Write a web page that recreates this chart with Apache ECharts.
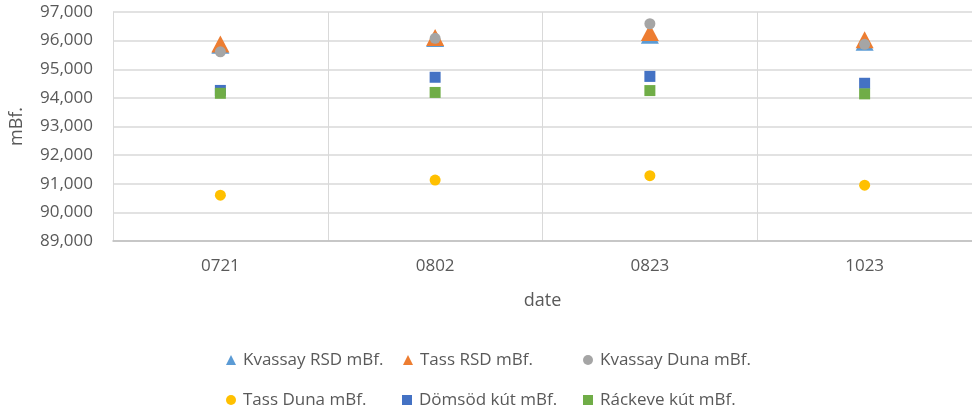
<!DOCTYPE html>
<html>
<head>
<meta charset="utf-8">
<script src="https://cdn.jsdelivr.net/npm/echarts@6/dist/echarts.min.js"></script>
<style>
  html, body { margin: 0; padding: 0; background: #fff; }
  #chart { width: 972px; height: 411px; }
</style>
</head>
<body>
<div id="chart"></div>
<script>
// Measurement dates
const dates = ['0721', '0802', '0823', '1023'];

// Water levels (mBf.) per station
const kvassayRsd  = [95840, 96070, 96190, 95945];
const tassRsd     = [95880, 96110, 96280, 96030];
const kvassayDuna = [95610, 96080, 96590, 95870];
const tassDuna    = [90600, 91130, 91280, 90950];
const domsodKut   = [94260, 94720, 94750, 94510];
const rackeveKut  = [94160, 94190, 94255, 94140];

// Value axis ticks
const yMin = 89000;
const yMax = 97000;
const yStep = 1000;

const FONT = '"Open Sans", "Noto Sans", sans-serif';
const TEXT = '#595959';

const seriesDefs = [
  { name: 'Kvassay RSD mBf.',  data: kvassayRsd,  symbol: 'triangle', size: [18, 17], color: '#5B9BD5' },
  { name: 'Tass RSD mBf.',     data: tassRsd,     symbol: 'triangle', size: [18, 17], color: '#ED7D31' },
  { name: 'Kvassay Duna mBf.', data: kvassayDuna, symbol: 'circle',   size: 11,       color: '#A5A5A5' },
  { name: 'Tass Duna mBf.',    data: tassDuna,    symbol: 'circle',   size: 11,       color: '#FFC000' },
  { name: 'Dömsöd kút mBf.',   data: domsodKut,   symbol: 'rect',     size: 11,       color: '#4472C4' },
  { name: 'Ráckeve kút mBf.',  data: rackeveKut,  symbol: 'rect',     size: 11,       color: '#70AD47' }
];

// Legend laid out in two rows of three
const legendSpots = [
  { left: 226, top: 350 }, { left: 403, top: 350 }, { left: 583, top: 350 },
  { left: 226, top: 390 }, { left: 402, top: 390 }, { left: 583, top: 390 }
];

const legends = seriesDefs.map((s, i) => ({
  data: [{ name: s.name, icon: s.symbol }],
  left: legendSpots[i].left,
  top: legendSpots[i].top,
  padding: 0,
  itemWidth: 10,
  itemHeight: 10,
  selectedMode: false,
  textStyle: { fontFamily: FONT, fontSize: 17, color: TEXT, lineHeight: 20, padding: [0, 0, 0, 2] }
}));

const chart = echarts.init(document.getElementById('chart'), null, { renderer: 'canvas' });

chart.setOption({
  animation: false,
  backgroundColor: '#ffffff',
  grid: { left: 112, top: 12, width: 864, height: 229, containLabel: false },
  legend: legends,
  xAxis: {
    type: 'category',
    data: dates,
    boundaryGap: true,
    name: 'date',
    nameLocation: 'middle',
    nameGap: 51,
    nameTextStyle: { fontFamily: FONT, fontSize: 18, color: TEXT },
    axisLine: { show: true, lineStyle: { color: '#bfbfbf', width: 1.5 } },
    axisTick: { show: false },
    axisLabel: { fontFamily: FONT, fontSize: 17, color: TEXT, margin: 17 },
    splitLine: { show: true, lineStyle: { color: '#d9d9d9', width: 1 } }
  },
  yAxis: {
    type: 'value',
    min: yMin,
    max: yMax,
    interval: yStep,
    name: 'mBf.',
    nameLocation: 'middle',
    nameGap: 87,
    nameRotate: 90,
    nameTextStyle: { fontFamily: FONT, fontSize: 18, color: TEXT },
    axisLine: { show: true, lineStyle: { color: '#d9d9d9', width: 1 } },
    axisTick: { show: false },
    axisLabel: {
      fontFamily: FONT, fontSize: 17, color: TEXT, margin: 20,
      formatter: v => v.toLocaleString('en-US')
    },
    splitLine: { show: true, lineStyle: { color: '#d9d9d9', width: 1.5 } }
  },
  series: seriesDefs.map(s => ({
    name: s.name,
    type: 'scatter',
    data: s.data,
    symbol: s.symbol,
    symbolSize: s.size,
    itemStyle: { color: s.color, opacity: 1 },
    emphasis: { disabled: true }
  }))
});
</script>
</body>
</html>
